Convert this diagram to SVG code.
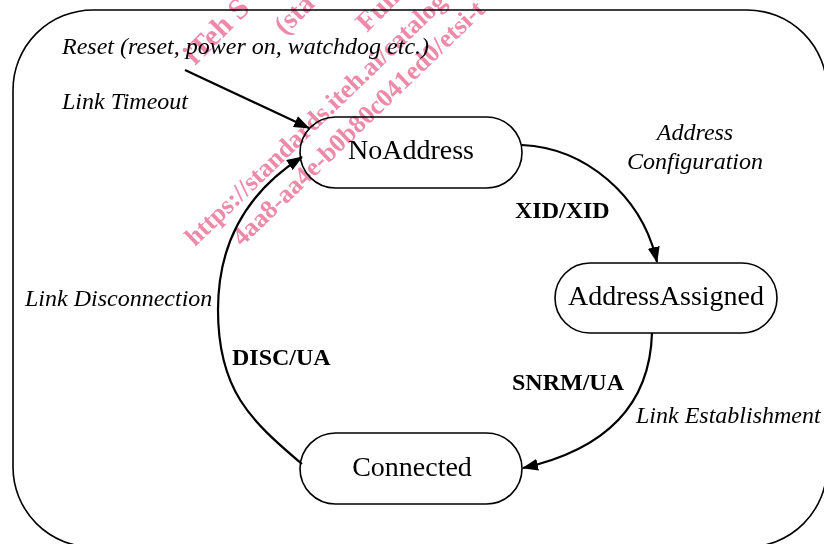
<svg xmlns="http://www.w3.org/2000/svg" width="824" height="544" viewBox="0 0 824 544">
<defs>
<marker id="arr" markerUnits="userSpaceOnUse" markerWidth="16" markerHeight="12" refX="15" refY="6" orient="auto"><path d="M0,0 L16,6 L0,12 z" fill="#000"/></marker>
<style>
.node rect{fill:none;stroke:#000;stroke-width:1.6}
.nt{font-family:"Liberation Serif","Times New Roman",serif;font-size:28px;text-anchor:middle;fill:#000}
.it{font-family:"Liberation Serif","Times New Roman",serif;font-style:italic;font-size:24px;fill:#000}
.bd{font-family:"Liberation Serif","Times New Roman",serif;font-weight:bold;font-size:24px;fill:#000}
.conn path{fill:none;stroke:#000;stroke-width:2.2;marker-end:url(#arr)}
.wm{font-family:"Liberation Serif","Times New Roman",serif;font-weight:bold;font-size:26px;fill:#ee89a9}
</style>
</defs>
<rect x="0" y="0" width="824" height="544" fill="#fff"/>
<rect id="frame" x="13" y="10" width="814" height="537" rx="80" ry="80" fill="none" stroke="#000" stroke-width="1.6"/>

<g id="labels">
<text class="it" x="62" y="54">Reset (reset, power on, watchdog etc.)</text>
<text class="it" x="62" y="109">Link Timeout</text>
<text class="it" x="695" y="140" text-anchor="middle">Address</text>
<text class="it" x="695" y="169" text-anchor="middle">Configuration</text>
<text class="bd" x="515" y="218">XID/XID</text>
<text class="it" x="25" y="306">Link Disconnection</text>
<text class="bd" x="232" y="365">DISC/UA</text>
<text class="bd" x="512" y="390">SNRM/UA</text>
<text class="it" x="636" y="423">Link Establishment</text>
</g>

<g id="connectors" class="conn">
<path d="M185,70 L309,128"/>
<path d="M522,145 C585,148 642,195 657,262"/>
<path d="M652,333 C650,400 612,448 523,468"/>
<path d="M302,464 C250,420 218,390 218,310 C218,240 250,190 302,157"/>
</g>

<g id="NoAddress" class="node">
<rect x="300" y="117" width="222" height="71" rx="35.5"/>
<text class="nt" x="411" y="159">NoAddress</text>
</g>
<g id="AddressAssigned" class="node">
<rect x="555" y="263" width="222" height="70" rx="35"/>
<text class="nt" x="666" y="305">AddressAssigned</text>
</g>
<g id="Connected" class="node">
<rect x="300" y="433" width="222" height="71" rx="35.5"/>
<text class="nt" x="412" y="476">Connected</text>
</g>

<g id="watermark" style="mix-blend-mode:multiply">
<text class="wm" style="font-size:30px" transform="translate(195,66) rotate(-45)">iTeh S</text>
<text class="wm" style="font-size:28px" transform="translate(285,36) rotate(-45)">(sta</text>
<text class="wm" style="font-size:28px" transform="translate(367,33) rotate(-45)">Full</text>
<text class="wm" transform="translate(195,247) rotate(-44)">https://standards.iteh.ai/catalog</text>
<text class="wm" transform="translate(242,247) rotate(-44)">4aa8-aa4e-b0b80c041ed0/etsi-t</text>
</g>
</svg>
